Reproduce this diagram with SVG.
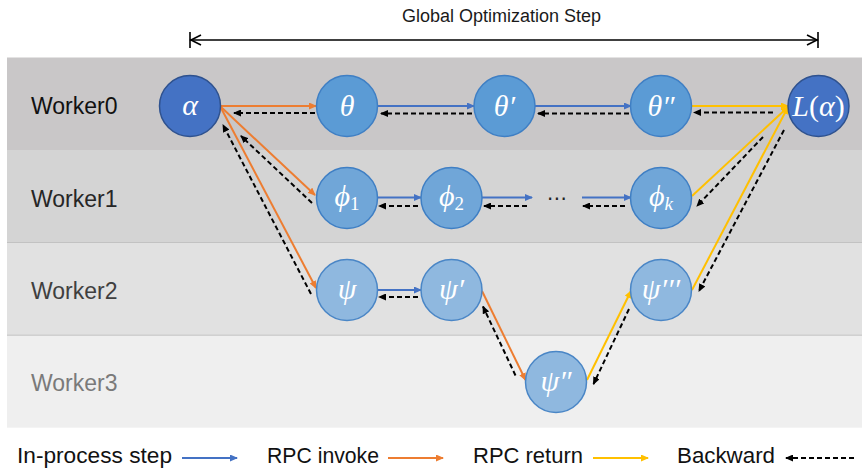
<svg xmlns="http://www.w3.org/2000/svg" width="862" height="469" viewBox="0 0 862 469">
  <style>
    .lane-label { font-family: "Liberation Sans", Arial, sans-serif; font-size: 23px; }
    .title { font-family: "Liberation Sans", Arial, sans-serif; font-size: 18px; fill: #1a1a1a; }
    .legend { font-family: "Liberation Sans", Arial, sans-serif; font-size: 21.5px; fill: #111; }
    .math { font-family: "Liberation Serif", "DejaVu Serif", serif; font-style: italic; font-size: 30px; fill: #ffffff; text-anchor: middle; }
    .up { font-style: normal; }
    .sub { font-size: 19px; }
    .node-dark { fill: #4472c4; stroke: #2f528f; stroke-width: 1.5; }
    .node-theta { fill: #5b9bd5; stroke: #3f7fc4; stroke-width: 1.5; }
    .node-phi { fill: #70a6d8; stroke: #3f7fc4; stroke-width: 1.5; }
    .node-psi { fill: #8fb8df; stroke: #4a86c6; stroke-width: 1.5; }
    .step { stroke: #4472c4; stroke-width: 2; fill: none; marker-end: url(#head-blue); }
    .invoke { stroke: #ed7d31; stroke-width: 2; fill: none; marker-end: url(#head-orange); }
    .ret { stroke: #ffc000; stroke-width: 2; fill: none; marker-end: url(#head-yellow); }
    .back { stroke: #000; stroke-width: 2; stroke-dasharray: 5 3; fill: none; marker-end: url(#head-black); }
    .sep { stroke: #c2c2c2; stroke-width: 1; }
  </style>
  <defs>
    <marker id="head-blue" viewBox="0 0 8 7" refX="7" refY="3.5" markerWidth="8" markerHeight="7" markerUnits="userSpaceOnUse" orient="auto">
      <path d="M0,0 L8,3.5 L0,7 z" fill="#4472c4"/>
    </marker>
    <marker id="head-orange" viewBox="0 0 8 7" refX="7" refY="3.5" markerWidth="8" markerHeight="7" markerUnits="userSpaceOnUse" orient="auto">
      <path d="M0,0 L8,3.5 L0,7 z" fill="#ed7d31"/>
    </marker>
    <marker id="head-yellow" viewBox="0 0 8 7" refX="7" refY="3.5" markerWidth="8" markerHeight="7" markerUnits="userSpaceOnUse" orient="auto">
      <path d="M0,0 L8,3.5 L0,7 z" fill="#ffc000"/>
    </marker>
    <marker id="head-black" viewBox="0 0 8 7" refX="7" refY="3.5" markerWidth="8" markerHeight="7" markerUnits="userSpaceOnUse" orient="auto">
      <path d="M0,0 L8,3.5 L0,7 z" fill="#000"/>
    </marker>
  </defs>

  <rect width="862" height="469" fill="#ffffff"/>

  <!-- worker swim lanes -->
  <g id="lanes">
    <rect x="7" y="57.5" width="855" height="92.5" fill="#c9c7c8"/>
    <rect x="7" y="150" width="855" height="92.5" fill="#d4d4d4"/>
    <rect x="7" y="242.5" width="855" height="92.5" fill="#e1e1e1"/>
    <rect x="7" y="335" width="855" height="92.7" fill="#efefef"/>
    <line class="sep" x1="7" y1="242.5" x2="862" y2="242.5"/>
    <line class="sep" x1="7" y1="335.2" x2="862" y2="335.2"/>
    <text class="lane-label" x="31" y="114" fill="#111">Worker0</text>
    <text class="lane-label" x="31" y="206.5" fill="#262626">Worker1</text>
    <text class="lane-label" x="31" y="299" fill="#3f3f3f">Worker2</text>
    <text class="lane-label" x="31" y="391" fill="#7a7a7a">Worker3</text>
  </g>

  <!-- span of one optimization step -->
  <g id="span">
    <text class="title" x="402" y="22">Global Optimization Step</text>
    <line x1="190" y1="40" x2="818" y2="40" stroke="#000" stroke-width="1.6"/>
    <line x1="190" y1="32" x2="190" y2="48" stroke="#000" stroke-width="1.6"/>
    <line x1="818" y1="32" x2="818" y2="48" stroke="#000" stroke-width="1.6"/>
    <path d="M201,35 L191,40 L201,45" fill="none" stroke="#000" stroke-width="1.6"/>
    <path d="M807,35 L817,40 L807,45" fill="none" stroke="#000" stroke-width="1.6"/>
  </g>

  <!-- connectors -->
  <g id="connectors">
    <!-- Worker0 chain -->
    <line class="invoke" x1="221" y1="106" x2="316" y2="106"/>
    <line class="back" x1="315" y1="113" x2="234" y2="113"/>
    <line class="step" x1="378" y1="106" x2="474" y2="106"/>
    <line class="back" x1="472" y1="113.5" x2="381" y2="113.5"/>
    <line class="step" x1="535" y1="106" x2="631" y2="106"/>
    <line class="back" x1="629" y1="113.5" x2="538" y2="113.5"/>
    <line class="ret" x1="692" y1="106" x2="788" y2="106"/>
    <line class="back" x1="773" y1="112.5" x2="694" y2="112.5"/>

    <!-- alpha to Worker1 / Worker2 -->
    <line class="invoke" x1="221" y1="107" x2="315" y2="195"/>
    <line class="back" x1="312" y1="203" x2="241" y2="136"/>
    <line class="invoke" x1="221" y1="108" x2="316" y2="288"/>
    <line class="back" x1="311" y1="294" x2="223" y2="125"/>

    <!-- Worker1 chain -->
    <line class="step" x1="378" y1="197.5" x2="421" y2="197.5"/>
    <line class="back" x1="418" y1="206" x2="379" y2="206"/>
    <line class="step" x1="482" y1="197.5" x2="532" y2="197.5"/>
    <line class="back" x1="527" y1="206" x2="484" y2="206"/>
    <line class="step" x1="582" y1="197.5" x2="631" y2="197.5"/>
    <line class="back" x1="625" y1="206" x2="583" y2="206"/>
    <line class="ret" x1="692" y1="196" x2="788" y2="107"/>
    <line class="back" x1="763" y1="137" x2="697" y2="206"/>

    <!-- Worker2 / Worker3 chain -->
    <line class="step" x1="378" y1="290" x2="421" y2="290"/>
    <line class="back" x1="418" y1="297" x2="379" y2="297"/>
    <line class="invoke" x1="482" y1="291" x2="525.5" y2="380"/>
    <line class="back" x1="515.5" y1="375.5" x2="483" y2="306.5"/>
    <line class="ret" x1="587" y1="380" x2="631" y2="291"/>
    <line class="back" x1="629" y1="309" x2="593.5" y2="384"/>
    <line class="ret" x1="692" y1="290" x2="788" y2="107"/>
    <line class="back" x1="784" y1="130" x2="699" y2="291"/>
  </g>

  <!-- Worker0 nodes -->
  <g id="node-alpha">
    <circle class="node-dark" cx="190" cy="106" r="30.5"/>
    <text class="math" x="190" y="115">α</text>
  </g>
  <g id="node-theta">
    <circle class="node-theta" cx="347" cy="106" r="30.5"/>
    <text class="math" x="347" y="116">θ</text>
  </g>
  <g id="node-theta1">
    <circle class="node-theta" cx="504.5" cy="106" r="30.5"/>
    <text class="math" x="504.5" y="116">θ′</text>
  </g>
  <g id="node-theta2">
    <circle class="node-theta" cx="661" cy="106" r="30.5"/>
    <text class="math" x="661" y="116">θ″</text>
  </g>
  <g id="node-loss">
    <circle class="node-dark" cx="818.5" cy="106" r="30.5"/>
    <text class="math" x="818.5" y="116">L<tspan class="up">(</tspan>α<tspan class="up">)</tspan></text>
  </g>

  <!-- Worker1 nodes -->
  <g id="node-phi1">
    <circle class="node-phi" cx="347" cy="198" r="30.5"/>
    <text class="math" x="347" y="206">ϕ<tspan class="up sub" dy="4">1</tspan></text>
  </g>
  <g id="node-phi2">
    <circle class="node-phi" cx="451.5" cy="198" r="30.5"/>
    <text class="math" x="451.5" y="206">ϕ<tspan class="up sub" dy="4">2</tspan></text>
  </g>
  <g id="node-ellipsis">
    <text x="557" y="205" font-family="DejaVu Sans, sans-serif" font-size="20" fill="#222" text-anchor="middle">⋯</text>
  </g>
  <g id="node-phik">
    <circle class="node-phi" cx="661" cy="198" r="30.5"/>
    <text class="math" x="661" y="206">ϕ<tspan class="sub" dy="4">k</tspan></text>
  </g>

  <!-- Worker2 / Worker3 nodes -->
  <g id="node-psi">
    <circle class="node-psi" cx="347" cy="290" r="30.5"/>
    <text class="math" x="347" y="299">ψ</text>
  </g>
  <g id="node-psi1">
    <circle class="node-psi" cx="451.5" cy="290" r="30.5"/>
    <text class="math" x="451.5" y="299">ψ′</text>
  </g>
  <g id="node-psi3">
    <circle class="node-psi" cx="661" cy="290" r="30.5"/>
    <text class="math" x="661" y="299">ψ′′′</text>
  </g>
  <g id="node-psi2">
    <circle class="node-psi" cx="556" cy="382" r="30.5"/>
    <text class="math" x="556" y="391">ψ″</text>
  </g>

  <!-- legend -->
  <g id="legend">
    <text class="legend" x="17" y="463" textLength="155" lengthAdjust="spacingAndGlyphs">In-process step</text>
    <line class="step" x1="182" y1="458" x2="237" y2="458"/>
    <text class="legend" x="267" y="463" textLength="112" lengthAdjust="spacingAndGlyphs">RPC invoke</text>
    <line class="invoke" x1="388" y1="458" x2="443" y2="458"/>
    <text class="legend" x="473" y="463" textLength="110" lengthAdjust="spacingAndGlyphs">RPC return</text>
    <line class="ret" x1="593" y1="458" x2="648" y2="458"/>
    <text class="legend" x="677" y="463" textLength="98" lengthAdjust="spacingAndGlyphs">Backward</text>
    <line class="back" x1="854" y1="458" x2="786" y2="458"/>
  </g>
</svg>
